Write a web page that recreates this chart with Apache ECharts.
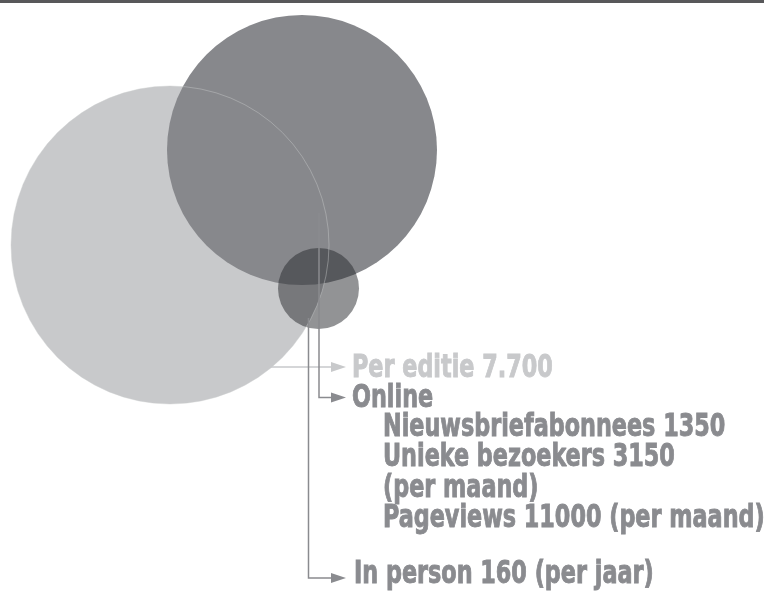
<!DOCTYPE html>
<html>
<head>
<meta charset="utf-8">
<script src="https://cdn.jsdelivr.net/npm/echarts@6/dist/echarts.min.js"></script>
<style>
  html, body { margin: 0; padding: 0; background: #ffffff; }
  #chart { width: 764px; height: 594px; }
</style>
</head>
<body>
<div id="chart"></div>
<script>
// ---- data ----
const circleNames = ['Per editie', 'Online', 'In person'];
const circleX = [170, 302, 318.5];
const circleY = [245, 150, 288.5];
const circleR = [159, 135, 40.5];

const labelPerEditie = 'Per editie 7.700';
const labelOnline = 'Online';
const onlineDetails = ['Nieuwsbriefabonnees 1350', 'Unieke bezoekers 3150', '(per maand)', 'Pageviews 11000 (per maand)'];
const labelInPerson = 'In person 160 (per jaar)';

// connectors: leader line x, top of leader, row (label midline)
const connectorX = [266.5, 319, 308.5];
const connectorTop = [339, 213, 318];
const connectorRow = [367, 397.5, 578];

// ---- styles ----
const LIGHT = '#c8c9cb';
const DARK = '#87888c';
const SMALL = 'rgba(38,39,43,0.5)';
const TEXT_DARK = '#8a8b8f';
const FONT = "'DejaVu Sans Condensed', 'Liberation Sans Narrow', sans-serif";
const FS = 32;
const TEXT_SCALE_X = 0.775;

const chart = echarts.init(document.getElementById('chart'), null, { renderer: 'canvas' });

const fills = [LIGHT, DARK, SMALL];
const circleData = circleNames.map((n, i) => ({ name: n, value: [circleX[i], circleY[i], circleR[i]] }));

const ARROW_TIP = 346, ARROW_LEN = 15, ARROW_HALF = 5;
const connColors = [LIGHT, TEXT_DARK, TEXT_DARK];

// text rows: [text, xStart, midY, color]
const textRows = [
  [labelPerEditie, 352, 368.5, LIGHT],
  [labelOnline, 352, 398.5, TEXT_DARK]
];
onlineDetails.forEach((t, i) => textRows.push([t, 383, 427.8 + i * 30.2, TEXT_DARK]));
textRows.push([labelInPerson, 354, 575, TEXT_DARK]);

const option = {
  animation: false,
  grid: { left: 0, right: 0, top: 0, bottom: 0 },
  xAxis: { type: 'value', min: 0, max: 764, show: false },
  yAxis: { type: 'value', min: 0, max: 594, inverse: true, show: false },
  graphic: [{
    type: 'rect', left: 0, top: 0, shape: { width: 764, height: 3 }, style: { fill: '#58585a' }, z: 100
  }],
  series: [
    {
      type: 'custom', silent: true, z: 1,
      data: circleData,
      renderItem: function (params, api) {
        const c = api.coord([api.value(0), api.value(1)]);
        const r = api.size([api.value(2), 0])[0];
        return { type: 'circle', shape: { cx: c[0], cy: c[1], r: r }, style: { fill: fills[params.dataIndex] } };
      }
    },
    {
      // faint outline of the big light circle, visible through the darker circle
      type: 'custom', silent: true, z: 2,
      data: [circleData[0]],
      renderItem: function (params, api) {
        const c = api.coord([api.value(0), api.value(1)]);
        const r = api.size([api.value(2), 0])[0];
        return { type: 'circle', shape: { cx: c[0], cy: c[1], r: r }, style: { fill: 'none', stroke: 'rgba(205,206,208,0.6)', lineWidth: 0.7 } };
      }
    },
    {
      type: 'custom', silent: true, z: 3,
      data: connectorX.map((x, i) => [x, connectorTop[i], connectorRow[i]]),
      renderItem: function (params, api) {
        const top = api.coord([api.value(0), api.value(1)]);
        const corner = api.coord([api.value(0), api.value(2)]);
        const tip = api.coord([ARROW_TIP, api.value(2)]);
        const col = connColors[params.dataIndex];
        return {
          type: 'group',
          children: [
            { type: 'polyline', shape: { points: [top, corner, [tip[0] - ARROW_LEN + 1, tip[1]]] }, style: { stroke: col, lineWidth: 1.5, fill: null } },
            { type: 'polygon', shape: { points: [[tip[0] - ARROW_LEN, tip[1] - ARROW_HALF], [tip[0], tip[1]], [tip[0] - ARROW_LEN, tip[1] + ARROW_HALF]] }, style: { fill: col } }
          ]
        };
      }
    },
    {
      type: 'custom', silent: true, z: 4,
      data: textRows.map(r => [r[1], r[2]]),
      renderItem: function (params, api) {
        const p = api.coord([api.value(0), api.value(1)]);
        const row = textRows[params.dataIndex];
        return {
          type: 'text', x: p[0], y: p[1], scaleX: TEXT_SCALE_X,
          style: { text: row[0], fill: row[3], stroke: row[3], lineWidth: 0.9, fontFamily: FONT, fontWeight: 'bold', fontSize: FS, align: 'left', verticalAlign: 'middle' }
        };
      }
    }
  ]
};
chart.setOption(option);
</script>
</body>
</html>
